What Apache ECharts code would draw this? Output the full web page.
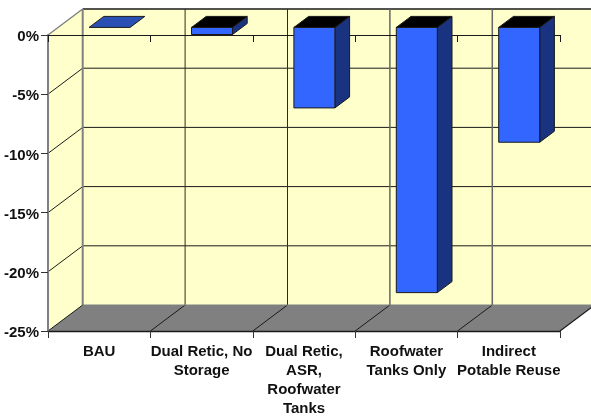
<!DOCTYPE html>
<html>
<head>
<meta charset="utf-8">
<style>html,body{margin:0;padding:0;background:#fff}#chart{width:591px;height:418px}</style>
<script src="https://cdn.jsdelivr.net/npm/echarts@6/dist/echarts.min.js"></script>
</head>
<body>
<div id="chart"></div>
<script>
const categories = ['BAU', 'Dual Retic, No\nStorage', 'Dual Retic,\nASR,\nRoofwater\nTanks', 'Roofwater\nTanks Only', 'Indirect\nPotable Reuse'];
const savings = [0, -0.6, -6.8, -22.4, -9.7];
const yTicks = [0, -5, -10, -15, -20, -25];

// Oblique projection: how far the room and the bars recede up and to the right.
const WALL_DEPTH = [34.7, -26];
const BAR_FRONT = [10.4, -7.6];
const BAR_BACK = [25.1, -18.6];
const BAR_WIDTH = 41;

const WALL = '#FFFFCC', FLOOR = '#808080', EDGE = '#808080', INK = '#1a1a1a';
const FRONT = '#3366FF', SIDE = '#1A3380', LID = '#000000', FLAT_LID = '#2A50B4';

const shift = (p, d) => [p[0] + d[0], p[1] + d[1]];
const poly = (points, fill, stroke, lineWidth) => ({
  type: 'polygon', shape: { points },
  style: { fill, stroke: stroke || null, lineWidth: lineWidth || 0 }
});
const line = (a, b, stroke, lineWidth) => ({
  type: 'line', shape: { x1: a[0], y1: a[1], x2: b[0], y2: b[1] },
  style: { stroke, lineWidth: lineWidth || 1 }
});

// Side wall, back wall, floor and their gridlines.
function renderRoom(params, api) {
  const band = api.size([1, 0])[0];
  const n = categories.length;
  const corner = (i, v) => {
    const c = api.coord([0, v]);
    return [c[0] - band / 2 + i * band, c[1]];
  };
  const fTop = corner(0, 0), fBot = corner(0, -25), rTop = corner(n, 0), rBot = corner(n, -25);
  const bTop = shift(fTop, WALL_DEPTH), bBot = shift(fBot, WALL_DEPTH);
  const brTop = shift(rTop, WALL_DEPTH), brBot = shift(rBot, WALL_DEPTH);
  const children = [
    poly([bTop, brTop, brBot, bBot], WALL),
    poly([fTop, bTop, bBot, fBot], WALL),
    poly([fBot, bBot, brBot, rBot], FLOOR)
  ];
  yTicks.forEach(v => {
    const a = corner(0, v), b = shift(a, WALL_DEPTH), c = shift(corner(n, v), WALL_DEPTH);
    if (v !== -25) children.push(line(b, c, INK, v === 0 ? 1.3 : 1));
    if (v !== 0 && v !== -25) children.push(line(a, b, INK, 1));
  });
  for (let i = 1; i < n; i++) {
    const a = corner(i, -25), b = shift(a, WALL_DEPTH), t = shift(corner(i, 0), WALL_DEPTH);
    // The two right-hand dividers on the back wall are softer and a little wider.
    if (i <= 2) children.push(line(b, t, '#2a2a2a', 1));
    else children.push(line(b, t, '#666666', 1.5));
    children.push(line(a, b, INK, 1));
  }
  children.push(line(bTop, bBot, EDGE, 2));
  children.push(line(fTop, bTop, EDGE, 1.4));
  children.push(line(fBot, bBot, INK, 1));
  children.push(line(bBot, brBot, EDGE, 1));
  children.push(line(rBot, brBot, INK, 1.2));
  return { type: 'group', children };
}

// One extruded column hanging from the zero plane.
function renderColumn(params, api) {
  const idx = api.value(0), val = api.value(1);
  const zero = api.coord([idx, 0]), end = api.coord([idx, val]);
  const x0 = zero[0] - BAR_WIDTH / 2, x1 = zero[0] + BAR_WIDTH / 2;
  const ftl = shift([x0, zero[1]], BAR_FRONT), ftr = shift([x1, zero[1]], BAR_FRONT);
  const fbl = shift([x0, end[1]], BAR_FRONT), fbr = shift([x1, end[1]], BAR_FRONT);
  const btl = shift([x0, zero[1]], BAR_BACK), btr = shift([x1, zero[1]], BAR_BACK);
  const bbr = shift([x1, end[1]], BAR_BACK);
  const children = [];
  if (val !== 0) {
    children.push(poly([ftr, btr, bbr, fbr], SIDE, INK, 1));
    children.push(poly([ftl, ftr, fbr, fbl], FRONT, INK, 1));
  }
  children.push(poly([ftl, btl, btr, ftr], val !== 0 ? LID : FLAT_LID, INK, 1));
  return { type: 'group', children };
}

const labelFont = { fontFamily: 'Liberation Sans', fontWeight: 'bold', fontSize: 15, color: '#111111' };

const chart = echarts.init(document.getElementById('chart'), null, { renderer: 'canvas' });
chart.setOption({
  animation: false,
  backgroundColor: '#ffffff',
  grid: { left: 48, top: 35, width: 512, height: 298, containLabel: false },
  xAxis: [
    {
      type: 'category', data: categories, position: 'bottom', z: 1,
      axisLine: { onZero: false, lineStyle: { color: INK, width: 1.4 } },
      axisTick: { show: true, length: 7, lineStyle: { color: '#333333', width: 1 } },
      axisLabel: { ...labelFont, interval: 0, lineHeight: 19, margin: 11, verticalAlign: 'top' },
      splitLine: { show: false }
    },
    {
      type: 'category', data: categories, position: 'top', z: 1,
      axisLine: { onZero: false, lineStyle: { color: INK, width: 1.2 } },
      axisTick: { show: true, inside: true, length: 7, lineStyle: { color: INK, width: 1 } },
      axisLabel: { show: false },
      splitLine: { show: false }
    }
  ],
  yAxis: {
    type: 'value', min: -25, max: 0, interval: 5, z: 1,
    axisLine: { show: true, lineStyle: { color: EDGE, width: 2 } },
    axisTick: { show: true, length: 7, lineStyle: { color: '#333333', width: 1 } },
    axisLabel: {
      ...labelFont, margin: 9,
      formatter: v => '{t|' + v + '%}',
      rich: { t: { ...labelFont, padding: [4, 0, 0, 0] } }
    },
    splitLine: { show: false }
  },
  series: [
    { type: 'custom', z: 0, xAxisIndex: 0, renderItem: renderRoom, data: [[0, 0]], silent: true },
    { type: 'custom', z: 2, xAxisIndex: 0, renderItem: renderColumn, data: savings.map((v, i) => [i, v]) }
  ]
});
</script>
</body>
</html>
